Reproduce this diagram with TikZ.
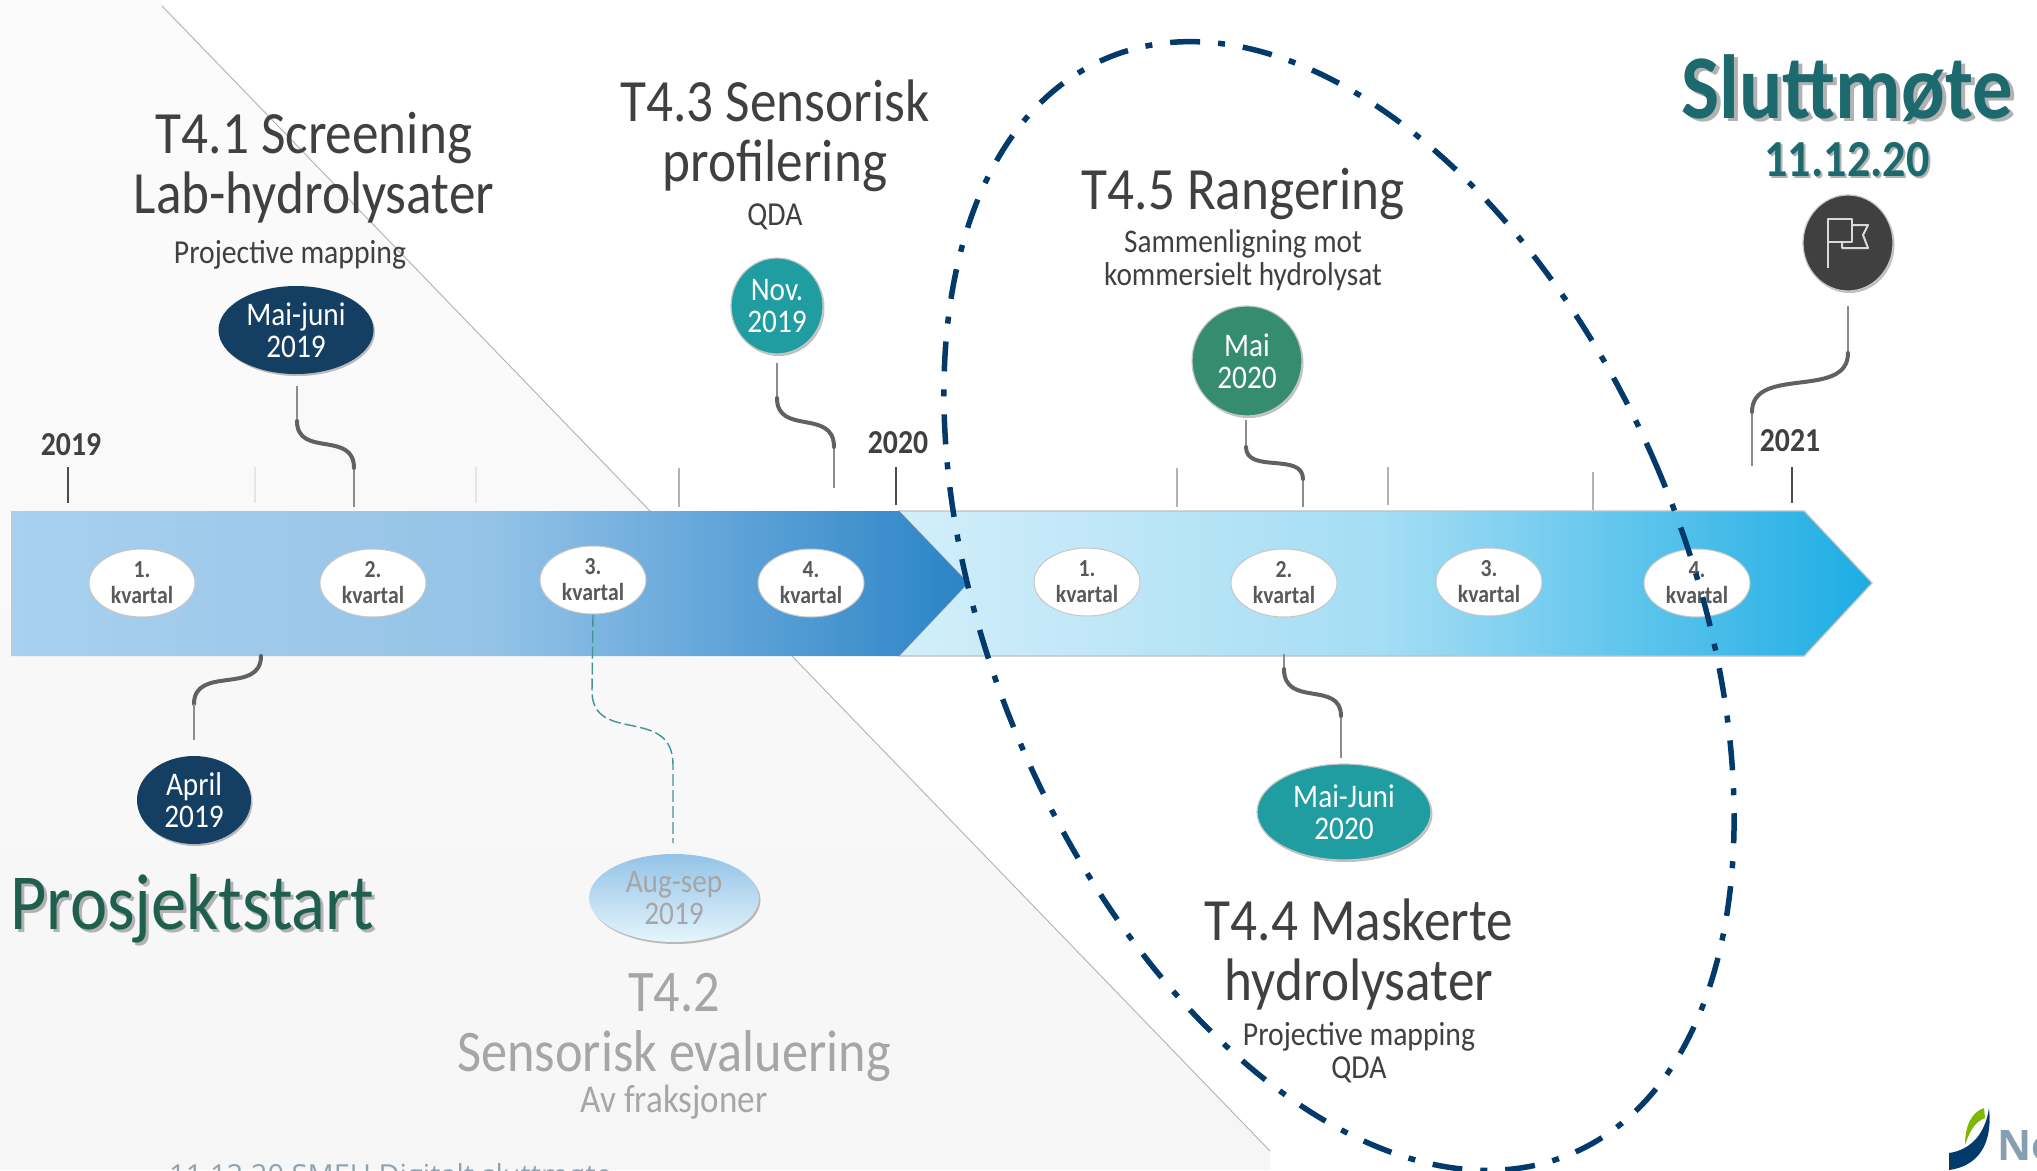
\documentclass[tikz,border=0pt]{standalone}
\usepackage{fontspec}
\usetikzlibrary{shapes.geometric,shadows}
\newfontfamily\mf[FakeStretch=0.887]{Carlito}
\newfontfamily\mfb[FakeStretch=0.887]{Carlito Bold}
\newfontfamily\ftf{Open Sans}
\definecolor{ink}{HTML}{404040}
\definecolor{fade}{HTML}{A6A6A6}
\definecolor{navy}{HTML}{143F62}
\definecolor{teal}{HTML}{1F9DA0}
\definecolor{moss}{HTML}{358C6E}
\definecolor{dashblue}{HTML}{013A6B}
\definecolor{startgreen}{HTML}{1E5F4E}
\definecolor{endteal}{HTML}{1D6A6E}
\definecolor{footgray}{HTML}{8FA4B0}
\definecolor{logogray}{HTML}{86A0B0}
\definecolor{logogreen}{HTML}{7FB800}
\definecolor{aOne}{HTML}{A9D0EE}
\definecolor{aTwo}{HTML}{94C3E7}
\definecolor{aThree}{HTML}{62A5D9}
\definecolor{aFour}{HTML}{2A84C6}
\definecolor{bOne}{HTML}{D3EEFA}
\definecolor{bTwo}{HTML}{A4DDF4}
\definecolor{bThree}{HTML}{1CADE4}
\pgfdeclarehorizontalshading{barA}{100bp}{color(0bp)=(aOne); color(25bp)=(aOne); color(50bp)=(aTwo); color(62bp)=(aThree); color(75bp)=(aFour); color(100bp)=(aFour)}
\pgfdeclarehorizontalshading{barB}{100bp}{color(0bp)=(bOne); color(25bp)=(bOne); color(50bp)=(bTwo); color(75bp)=(bThree); color(100bp)=(bThree)}
\tikzset{
 lab/.style 2 args={align=center,inner sep=0pt,text=ink,font=\mf\fontsize{#1}{#2}\selectfont},
 labb/.style 2 args={align=center,inner sep=0pt,text=ink,font=\mfb\fontsize{#1}{#2}\selectfont},
 quarter/.style={ellipse,draw=black!22,line width=1pt,fill=white,minimum width=106pt,minimum height=68pt,inner sep=0pt,align=center,text=black!65,font=\mfb\fontsize{24.5}{26}\selectfont},
 datenode/.style={ellipse,inner sep=0pt,align=center,text=white,font=\mf\fontsize{33}{32}\selectfont,drop shadow={shadow xshift=1.5pt,shadow yshift=-2pt,fill=black,opacity=.25}},
 ringed/.style={draw=black!22,line width=1.2pt},
 thinlink/.style={draw=black!45,line width=1.4pt},
 curvelink/.style={draw=black!62,line width=4pt,line cap=round},
 tick/.style={draw=black!30,line width=1.2pt},
 tickdark/.style={draw=black!70,line width=2pt},
 ticklight/.style={draw=black!10,line width=1.2pt},
 diag/.style={draw=black!30,line width=.9pt},
}
\begin{document}
\begin{tikzpicture}[x=1pt,y=-1pt]
\useasboundingbox (0,0) rectangle (2037,1170);
\fill[white] (0,0) rectangle (2037,1170);
% background panel
\shade[top color=black!1.5,bottom color=black!3.5] (0,0) -- (160,0) -- (650,511) -- (792,656) -- (1270,1151) -- (1270,1170) -- (0,1170) -- cycle;
\draw[diag] (162,6) -- (650,511);
\draw[diag] (792,656) -- (1270,1151);
% footer
\node[anchor=base west,inner sep=0pt,text=footgray,font=\ftf\fontsize{29}{30}\selectfont] (footer) at (169,1185) {11.12.20 SMEU Digitalt sluttmøte};
% bars
\path[shading=barB,draw=black!25,line width=1.2pt] (899,511) -- (1804,511) -- (1872,583) -- (1804,656) -- (899,656) -- (968,583) -- cycle;
\path[shading=barA] (11,511) -- (899,511) -- (968,583) -- (899,656) -- (11,656) -- cycle;
% ticks
\coordinate (t1a) at (68,467); \coordinate (t1b) at (68,503);
\coordinate (t2a) at (255,467); \coordinate (t2b) at (255,503);
\coordinate (t3a) at (476,467); \coordinate (t3b) at (476,503);
\coordinate (t4a) at (679,468); \coordinate (t4b) at (679,507);
\coordinate (t5a) at (896,467); \coordinate (t5b) at (896,505);
\coordinate (t6a) at (1177,468); \coordinate (t6b) at (1177,507);
\coordinate (t7a) at (1388,467); \coordinate (t7b) at (1388,505);
\coordinate (t8a) at (1593,472); \coordinate (t8b) at (1593,510);
\coordinate (t9a) at (1792,467); \coordinate (t9b) at (1792,503);
\draw[tickdark] (t1a) -- (t1b);
\draw[ticklight] (t2a) -- (t2b);
\draw[ticklight] (t3a) -- (t3b);
\draw[tick] (t4a) -- (t4b);
\draw[tickdark] (t5a) -- (t5b);
\draw[tick] (t6a) -- (t6b);
\draw[tick] (t7a) -- (t7b);
\draw[tick] (t8a) -- (t8b);
\draw[tickdark] (t9a) -- (t9b);
\node[labb={33.5}{34}] (y2019) at (71,445) {2019};
\node[labb={33.5}{34}] (y2020) at (898,443) {2020};
\node[labb={33.5}{34}] (y2021) at (1790,441) {2021};
% quarters
\node[quarter] (q1) at (142,583) {1.\\kvartal};
\node[quarter] (q2) at (373,583) {2.\\kvartal};
\node[quarter] (q3) at (593,580) {3.\\kvartal};
\node[quarter] (q4) at (811,583) {4.\\kvartal};
\node[quarter] (q5) at (1087,582) {1.\\kvartal};
\node[quarter] (q6) at (1284,583) {2.\\kvartal};
\node[quarter] (q7) at (1489,582) {3.\\kvartal};
\node[quarter] (q8) at (1697,583) {4.\\kvartal};
% dates
\node[datenode,fill=navy,minimum width=155pt,minimum height=88pt] (d1) at (296,330) {Mai-juni\\2019};
\node[datenode,fill=teal,ringed,minimum width=92pt,minimum height=96pt] (d2) at (777,306) {Nov.\\2019};
\node[datenode,fill=moss,ringed,minimum width=110pt,minimum height=110pt] (d3) at (1247,361) {Mai\\2020};
\node[datenode,fill=teal,ringed,minimum width=174pt,minimum height=96pt] (d4) at (1344,812) {Mai-Juni\\2020};
\node[datenode,fill=navy,minimum width=114pt,minimum height=88pt] (d5) at (194,800) {April\\2019};
\node[datenode,top color=aTwo,bottom color=bOne!60!white,text=fade,minimum width=170pt,minimum height=88pt] (d6) at (674,898) {Aug-sep\\2019};
\node[datenode,fill=ink,ringed,minimum width=90pt,minimum height=96pt] (flag) at (1848,243) {};
% flag icon
\draw[black!15,line width=2pt,line join=round] (1828,268) -- (1828,219) -- (1852,219) -- (1852,242) -- (1828,242);
\draw[black!15,line width=2pt,line join=round] (1852,225) -- (1868,225) -- (1863,235) -- (1868,248) -- (1842,248) -- (1842,242);
% connectors
\coordinate (c1a) at (297,386); \coordinate (c1b) at (297,421); \coordinate (c1c) at (354,468); \coordinate (c1d) at (354,507);
\draw[thinlink] (c1a) -- (c1b); \draw[thinlink] (c1c) -- (c1d);
\draw[curvelink] (c1b) .. controls (297,458) and (354,430) .. (c1c);
\coordinate (c2a) at (777,363); \coordinate (c2b) at (777,398); \coordinate (c2c) at (834,447); \coordinate (c2d) at (834,488);
\draw[thinlink] (c2a) -- (c2b); \draw[thinlink] (c2c) -- (c2d);
\draw[curvelink] (c2b) .. controls (777,436) and (834,408) .. (c2c);
\coordinate (c3a) at (1246,420); \coordinate (c3b) at (1246,447); \coordinate (c3c) at (1303,479); \coordinate (c3d) at (1303,507);
\draw[thinlink] (c3a) -- (c3b); \draw[thinlink] (c3c) -- (c3d);
\draw[curvelink] (c3b) .. controls (1246,474) and (1303,452) .. (c3c);
\coordinate (c4a) at (1848,306); \coordinate (c4b) at (1848,353); \coordinate (c4c) at (1752,412); \coordinate (c4d) at (1752,466);
\draw[thinlink] (c4a) -- (c4b); \draw[thinlink] (c4c) -- (c4d);
\draw[curvelink] (c4b) .. controls (1848,400) and (1752,365) .. (c4c);
\coordinate (c5a) at (261,656); \coordinate (c5c) at (194,704); \coordinate (c5d) at (194,740);
\draw[curvelink] (c5a) .. controls (261,695) and (194,665) .. (c5c);
\draw[thinlink] (c5c) -- (c5d);
\coordinate (c6a) at (q3.south); \coordinate (c6b) at (592,691); \coordinate (c6c) at (673,765); \coordinate (c6d) at (673,843);
\draw[draw=teal!65!gray,line width=1.4pt,dash pattern=on 12pt off 4pt] (c6a) -- (c6b) .. controls (592,745) and (673,705) .. (c6c) -- (c6d);
\coordinate (c7a) at (1284,654); \coordinate (c7b) at (1284,669); \coordinate (c7c) at (1341,716); \coordinate (c7d) at (1341,758);
\draw[thinlink] (c7a) -- (c7b); \draw[thinlink] (c7c) -- (c7d);
\draw[curvelink] (c7b) .. controls (1284,708) and (1341,680) .. (c7c);
% headings
\node[lab={60}{60}] (h1) at (314,168) {T4.1 Screening\\Lab-hydrolysater};
\node[lab={33.5}{34}] (h1s) at (290,255) {Projective mapping};
\node[lab={60}{60}] (h3) at (775,136) {T4.3 Sensorisk\\profilering};
\node[lab={33.5}{34}] (h3s) at (775,217) {QDA};
\node[lab={60}{60}] (h5) at (1243,194) {T4.5 Rangering};
\node[lab={33}{33}] (h5s) at (1243,260) {Sammenligning mot\\kommersielt hydrolysat};
\node[lab={60}{60}] (h4) at (1359,954) {T4.4 Maskerte\\hydrolysater};
\node[lab={33.5}{33}] (h4s) at (1359,1053) {Projective mapping\\QDA};
\node[lab={59}{60},text=fade] (h2) at (674,1027) {T4.2\\Sensorisk evaluering};
\node[lab={39.5}{34},text=fade] (h2s) at (674,1102) {Av fraksjoner};
\node[lab={79.5}{84},text=black!30] (psS) at (195,912) {Prosjektstart};
\node[lab={79.5}{84},text=startgreen] (ps) at (192,909) {Prosjektstart};
\node[labb={91}{91},text=black!30] (slS) at (1851,91) {Sluttmøte};
\node[labb={91}{91},text=endteal] (sl) at (1847,88) {Sluttmøte};
\node[labb={52}{52},text=black!30] (sdS) at (1849,162) {11.12.20};
\node[labb={52}{52},text=endteal] (sd) at (1847,160) {11.12.20};
% dash-dotted ellipse
\draw[dashblue,line width=5.5pt,dash pattern=on 30pt off 18pt on 7pt off 18pt,rotate around={23:(1339,606)}] (1339,606) ellipse [x radius=347pt,y radius=595pt];
% logo
\fill[dashblue] (1949,1153) .. controls (1970,1150) and (1985,1135) .. (1989,1108) .. controls (1992,1135) and (1985,1165) .. (1949,1170) -- cycle;
\fill[logogreen] (1965,1145) .. controls (1965,1125) and (1972,1112) .. (1984,1108) -- (1985,1118) .. controls (1975,1122) and (1970,1130) .. (1965,1145) -- cycle;
\node[anchor=base west,inner sep=0pt,text=logogray,font=\ftf\bfseries\fontsize{42}{44}\selectfont] (logo) at (1997,1160) {No};
\end{tikzpicture}
\end{document}
